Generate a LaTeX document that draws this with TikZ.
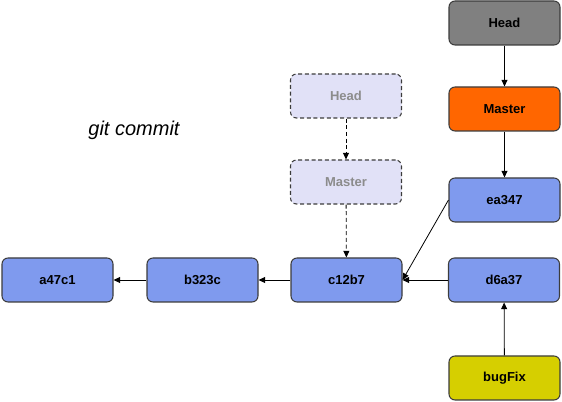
\documentclass[tikz,border=0pt]{standalone}
\usepackage{fontspec}
\setmainfont{Liberation Sans}
\usetikzlibrary{arrows.meta}
\definecolor{cblue}{HTML}{7F9AEE}
\definecolor{cgray}{HTML}{808080}
\definecolor{corange}{HTML}{FF6600}
\definecolor{cyellow}{HTML}{D6CF00}
\definecolor{clav}{HTML}{E1E1F7}
\definecolor{cborder}{HTML}{3C3C3C}
\definecolor{cghost}{HTML}{8C8C8C}
\tikzset{
  box/.style={draw=cborder, line width=0.8pt, rounded corners=4.5pt, minimum width=83.25pt, minimum height=33pt, inner sep=0pt, font=\fontsize{9.75}{11}\selectfont\bfseries, text=black},
  commitbox/.style={box, fill=cblue},
  ghostbox/.style={box, fill=clav, dashed, dash pattern=on 3pt off 2pt, text=cghost},
  conn/.style={line width=0.6pt, -{Triangle[length=5pt,width=4.5pt]}},
  ghostconn/.style={conn, dash pattern=on 3pt off 2pt}
}
\begin{document}
\begin{tikzpicture}[x=0.75pt,y=-0.75pt]
\useasboundingbox (0,0) rectangle (562,402);
\node[commitbox] (a) at (57.5,280) {a47c1};
\node[commitbox] (b) at (202.5,280) {b323c};
\node[commitbox] (c) at (346.5,280) {c12b7};
\node[commitbox] (d) at (504,280) {d6a37};
\node[commitbox] (e) at (504.5,200) {ea347};
\node[box, fill=cyellow] (bug) at (504.5,378) {bugFix};
\node[box, fill=corange] (master) at (504.5,109) {Master};
\node[box, fill=cgray] (head) at (504.5,23) {Head};
\node[ghostbox] (ghead) at (346,96) {Head};
\node[ghostbox] (gmaster) at (346,182) {Master};
\node[font=\fontsize{15}{18}\selectfont\itshape] (label) at (134,130) {git commit};
\draw[conn] (head) -- (master);
\draw[conn] (master) -- (e);
\draw[conn] (e.west) -- (c.east);
\draw[conn] (d) -- (c);
\draw[conn] (c) -- (b);
\draw[conn] (b) -- (a);
\draw[conn] (bug) -- (d);
\draw[ghostconn] (ghead) -- (gmaster);
\draw[ghostconn] (gmaster) -- (c);
\end{tikzpicture}
\end{document}
